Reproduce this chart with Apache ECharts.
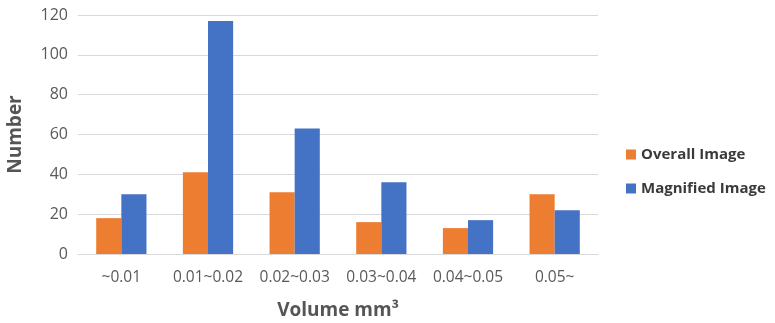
<!DOCTYPE html>
<html><head><meta charset="utf-8">
<script src="https://cdn.jsdelivr.net/npm/echarts@6/dist/echarts.min.js"></script>
<style>html,body{margin:0;padding:0;background:#fff}#c{width:775px;height:323px}</style>
</head><body><div id="c"></div>
<script>
const categories = ["~0.01","0.01~0.02","0.02~0.03","0.03~0.04","0.04~0.05","0.05~"];
const overallImage = [18, 41, 31, 16, 13, 30];
const magnifiedImage = [30, 117, 63, 36, 17, 22];
const seriesNames = ["Overall Image", "Magnified Image"];
const chart = echarts.init(document.getElementById('c'));
const font = '"Open Sans", "Noto Sans", sans-serif';
chart.setOption({
  animation: false,
  textStyle: {fontFamily: font},
  grid: {left: 78, right: 177, top: 15, bottom: 69, outerBoundsMode: 'none', containLabel: false},
  legend: {
    orient: 'vertical', left: 621, top: 142, itemGap: 19,
    itemWidth: 10, itemHeight: 10, icon: 'rect',
    textStyle: {fontFamily: font, fontSize: 15, fontWeight: 'bold', color: '#3a3a3a'},
    data: seriesNames
  },
  xAxis: {
    type: 'category', data: categories,
    name: 'Volume mm³', nameLocation: 'middle', nameGap: 47,
    nameTextStyle: {fontFamily: font, fontSize: 19, fontWeight: 'bold', color: '#555'},
    axisLine: {lineStyle: {color: '#d9d9d9'}},
    axisTick: {show: false},
    axisLabel: {interval: 0, hideOverlap: false, fontFamily: font, fontSize: 15.5, color: '#595959', margin: 16}
  },
  yAxis: {
    type: 'value', min: 0, max: 120, interval: 20,
    name: 'Number', nameLocation: 'middle', nameGap: 53, nameRotate: 90,
    nameTextStyle: {fontFamily: font, fontSize: 19, fontWeight: 'bold', color: '#555'},
    axisLine: {show: false}, axisTick: {show: false},
    axisLabel: {fontFamily: font, fontSize: 16, color: '#595959', margin: 10},
    splitLine: {lineStyle: {color: '#d9d9d9'}}
  },
  series: [
    {name: seriesNames[0], type: 'bar', data: overallImage, itemStyle: {color: '#ED7D31'}, barGap: '0%', barCategoryGap: '42%'},
    {name: seriesNames[1], type: 'bar', data: magnifiedImage, itemStyle: {color: '#4472C4'}, barGap: '0%', barCategoryGap: '42%'}
  ]
});
</script></body></html>
